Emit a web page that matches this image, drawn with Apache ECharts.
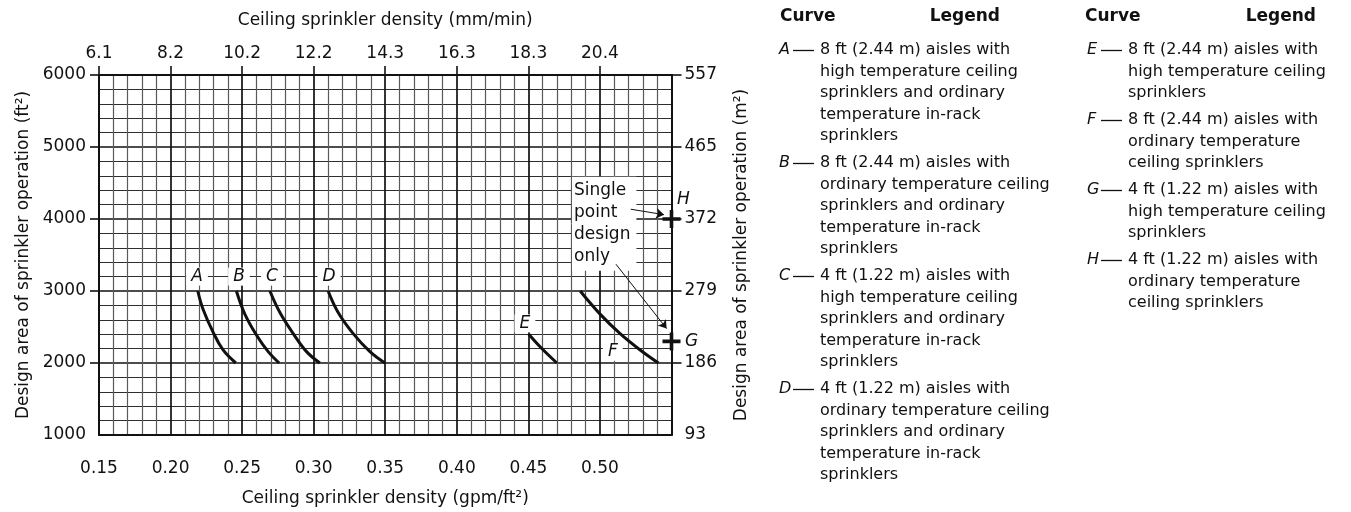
<!DOCTYPE html>
<html>
<head>
<meta charset="utf-8">
<script src="https://cdn.jsdelivr.net/npm/echarts@6/dist/echarts.min.js"></script>
<style>
html,body{margin:0;padding:0;background:#fff;}
#chart{width:1351px;height:512px;}
</style>
</head>
<body>
<div id="chart"></div>
<script>
// ---- Data ----
const mmPerMinLabels = ['6.1','8.2','10.2','12.2','14.3','16.3','18.3','20.4'];
const m2Labels = ['93','186','279','372','465','557'];

const densityA = [0.219, 0.2227, 0.2297, 0.2367, 0.2456];
const areaA    = [3000, 2747, 2429, 2181, 2000];
const densityB = [0.246, 0.2519, 0.2601, 0.2682, 0.2759];
const areaB    = [3000, 2679, 2385, 2158, 2000];
const densityC = [0.2694, 0.2764, 0.2857, 0.295, 0.3043];
const areaC    = [3000, 2701, 2408, 2158, 2000];
const densityD = [0.3101, 0.3171, 0.3276, 0.3393, 0.3498];
const areaD    = [3000, 2701, 2408, 2158, 2000];
const densityE = [0.4503, 0.4582, 0.4699];
const areaE    = [2400, 2226, 2000];
const densityF = [0.4862, 0.5001, 0.5141, 0.5281, 0.5409];
const areaF    = [3000, 2679, 2408, 2181, 2000];

const pointNames = ['G', 'H'];
const pointDensity = [0.55, 0.55];
const pointArea = [2300, 4000];

const curveLabelNames = ['A', 'B', 'C', 'D', 'E', 'F'];
const curveLabelX = [0.2185, 0.2478, 0.2709, 0.3107, 0.4476, 0.509];
const curveLabelY = [3200, 3200, 3200, 3200, 2550, 2155];

const noteText = 'Single\npoint\ndesign\nonly';
const noteAnchor = [0.4805, 3934];
const arrowToH = [[0.5215, 4136], [0.5448, 4060]];
const arrowToG = [[0.5112, 3372], [0.5466, 2478]];

const legendCol1 = [
  ['A', ['8 ft (2.44 m) aisles with', 'high temperature ceiling', 'sprinklers and ordinary', 'temperature in-rack', 'sprinklers']],
  ['B', ['8 ft (2.44 m) aisles with', 'ordinary temperature ceiling', 'sprinklers and ordinary', 'temperature in-rack', 'sprinklers']],
  ['C', ['4 ft (1.22 m) aisles with', 'high temperature ceiling', 'sprinklers and ordinary', 'temperature in-rack', 'sprinklers']],
  ['D', ['4 ft (1.22 m) aisles with', 'ordinary temperature ceiling', 'sprinklers and ordinary', 'temperature in-rack', 'sprinklers']]
];
const legendCol2 = [
  ['E', ['8 ft (2.44 m) aisles with', 'high temperature ceiling', 'sprinklers']],
  ['F', ['8 ft (2.44 m) aisles with', 'ordinary temperature', 'ceiling sprinklers']],
  ['G', ['4 ft (1.22 m) aisles with', 'high temperature ceiling', 'sprinklers']],
  ['H', ['4 ft (1.22 m) aisles with', 'ordinary temperature', 'ceiling sprinklers']]
];

// ---- Build ----
const FONT = 'DejaVu Sans';
const INK = '#111';
const pairs = (xs, ys) => xs.map((x, i) => [x, ys[i]]);

function curve(name, xs, ys) {
  return {
    name: name, type: 'line', xAxisIndex: 0, yAxisIndex: 0,
    data: pairs(xs, ys), smooth: 0.4, showSymbol: false, symbol: 'none',
    lineStyle: { color: '#111', width: 3 }, z: 3, silent: true
  };
}

const graphics = [];
function legendColumn(items, xKey, xText, yStart, xCurve, xLegendRight) {
  graphics.push({ type: 'text', left: xCurve, top: 8, style: { text: 'Curve', font: 'bold 17px "' + FONT + '"', fill: INK } });
  graphics.push({ type: 'text', right: 1351 - xLegendRight, top: 8, style: { text: 'Legend', font: 'bold 17px "' + FONT + '"', fill: INK } });
  let y = yStart;
  items.forEach(([key, lines]) => {
    graphics.push({ type: 'text', x: xKey, y: y, style: { text: key, font: 'italic 16px "' + FONT + '"', fill: INK, verticalAlign: 'middle' } });
    graphics.push({ type: 'line', shape: { x1: xKey + 14, y1: y + 0.5, x2: xKey + 35, y2: y + 0.5 }, style: { stroke: INK, lineWidth: 1.3 } });
    lines.forEach((t, i) => {
      graphics.push({ type: 'text', x: xText, y: y + i * 21.5, style: { text: t, font: '16px "' + FONT + '"', fill: INK, verticalAlign: 'middle' } });
    });
    y += lines.length * 21.5 + 5.5;
  });
}
legendColumn(legendCol1, 779, 820, 50, 780, 1000);
legendColumn(legendCol2, 1087, 1128, 50, 1085, 1316);

const axisFont = { fontFamily: FONT, fontSize: 17, color: INK };

const option = {
  animation: false,
  backgroundColor: '#fff',
  textStyle: { fontFamily: FONT },
  grid: { left: 99, right: 679.5, top: 75, bottom: 70.3, containLabel: false },
  xAxis: [
    {
      type: 'value', position: 'bottom', min: 0.15, max: 0.55, interval: 0.05,
      name: 'Ceiling sprinkler density (gpm/ft²)', nameLocation: 'middle', nameGap: 55,
      nameTextStyle: axisFont,
      axisLine: { show: true, lineStyle: { color: INK, width: 2 } },
      axisTick: { show: false },
      axisLabel: Object.assign({ margin: 25, formatter: v => (v > 0.545 ? '' : v.toFixed(2)) }, axisFont),
      splitLine: { show: true, lineStyle: { color: '#111', width: 1.7 } },
      minorTick: { show: false, splitNumber: 5 },
      minorSplitLine: { show: true, lineStyle: { color: '#5a5a5a', width: 1.2 } }
    },
    {
      type: 'value', position: 'top', min: 0.15, max: 0.55, interval: 0.05,
      name: 'Ceiling sprinkler density (mm/min)', nameLocation: 'middle', nameGap: 46,
      nameTextStyle: axisFont,
      axisLine: { show: true, lineStyle: { color: INK, width: 2 } },
      axisTick: { show: true, inside: false, length: 9, lineStyle: { color: INK, width: 1.6 },
                  customValues: [0.15, 0.2, 0.25, 0.3, 0.35, 0.4, 0.45, 0.5] },
      axisLabel: Object.assign({ margin: 13,
        customValues: [0.15, 0.2, 0.25, 0.3, 0.35, 0.4, 0.45, 0.5],
        formatter: v => { const i = Math.round((v - 0.15) / 0.05); return mmPerMinLabels[i] || ''; } }, axisFont),
      splitLine: { show: false }
    }
  ],
  yAxis: [
    {
      type: 'value', position: 'left', min: 1000, max: 6000, interval: 1000,
      name: 'Design area of sprinkler operation (ft²)', nameLocation: 'middle', nameGap: 67, nameRotate: 90,
      nameTextStyle: axisFont,
      axisLine: { show: true, lineStyle: { color: INK, width: 2 } },
      axisTick: { show: true, inside: false, length: 9, lineStyle: { color: INK, width: 1.6 },
                  customValues: [2000, 3000, 4000, 5000, 6000] },
      axisLabel: Object.assign({ margin: 13, formatter: v => String(Math.round(v)) }, axisFont),
      splitLine: { show: true, lineStyle: { color: '#111', width: 1.7 } },
      minorTick: { show: false, splitNumber: 5 },
      minorSplitLine: { show: true, lineStyle: { color: '#2e2e2e', width: 1 } }
    },
    {
      type: 'value', position: 'right', min: 1000, max: 6000, interval: 1000,
      name: 'Design area of sprinkler operation (m²)', nameLocation: 'middle', nameGap: 62, nameRotate: 90,
      nameTextStyle: axisFont,
      axisLine: { show: true, lineStyle: { color: INK, width: 2 } },
      axisTick: { show: true, inside: false, length: 10, lineStyle: { color: INK, width: 1.6 },
                  customValues: [2000, 3000, 4000, 5000, 6000] },
      axisLabel: Object.assign({ margin: 13,
        formatter: v => { const i = Math.round((v - 1000) / 1000); return m2Labels[i] || ''; } }, axisFont),
      splitLine: { show: false }
    }
  ],
  graphic: graphics,
  series: [
    curve('A', densityA, areaA),
    curve('B', densityB, areaB),
    curve('C', densityC, areaC),
    curve('D', densityD, areaD),
    curve('E', densityE, areaE),
    curve('F', densityF, areaF),
    {
      name: 'single points', type: 'scatter', clip: false, z: 6, silent: true,
      symbol: 'path://M8,0H12V8H20V12H12V20H8V12H0V8H8Z', symbolSize: 18,
      itemStyle: { color: '#111', opacity: 1 },
      data: pointNames.map((n, i) => ({
        name: n, value: [pointDensity[i], pointArea[i]],
        label: { show: true, formatter: '{b}', position: 'inside',
                 offset: n === 'G' ? [20, 0] : [12, -19], opacity: 1,
                 fontFamily: FONT, fontSize: 17, fontStyle: 'italic', color: INK }
      }))
    },
    {
      name: 'curve labels', type: 'scatter', z: 8, silent: true,
      symbolSize: 1, itemStyle: { color: '#fff', opacity: 1 },
      data: curveLabelNames.map((n, i) => ({ name: n, value: [curveLabelX[i], curveLabelY[i]] })),
      label: { show: true, formatter: '{b}', position: 'inside', fontFamily: FONT, fontSize: 17, opacity: 1,
               fontStyle: 'italic', color: INK, backgroundColor: '#fff', padding: [1, 5, 0, 5] }
    },
    {
      name: 'note', type: 'scatter', z: 8, silent: true,
      symbolSize: 1, itemStyle: { color: '#fff', opacity: 1 },
      data: [{ name: noteText, value: noteAnchor }],
      label: { show: true, formatter: '{b}', position: 'inside', align: 'left', verticalAlign: 'middle',
               fontFamily: FONT, fontSize: 17, lineHeight: 22, color: INK, opacity: 1,
               backgroundColor: '#fff', padding: [3, 6, 3, 2] }
    },
    {
      name: 'arrows', type: 'lines', coordinateSystem: 'cartesian2d', z: 9, silent: true,
      symbol: ['none', 'arrow'], symbolSize: 8,
      lineStyle: { color: '#111', width: 1, opacity: 1 },
      data: [{ coords: arrowToH }, { coords: arrowToG }]
    }
  ]
};

const chart = echarts.init(document.getElementById('chart'), null, { renderer: 'canvas' });
chart.setOption(option);
</script>
</body>
</html>
